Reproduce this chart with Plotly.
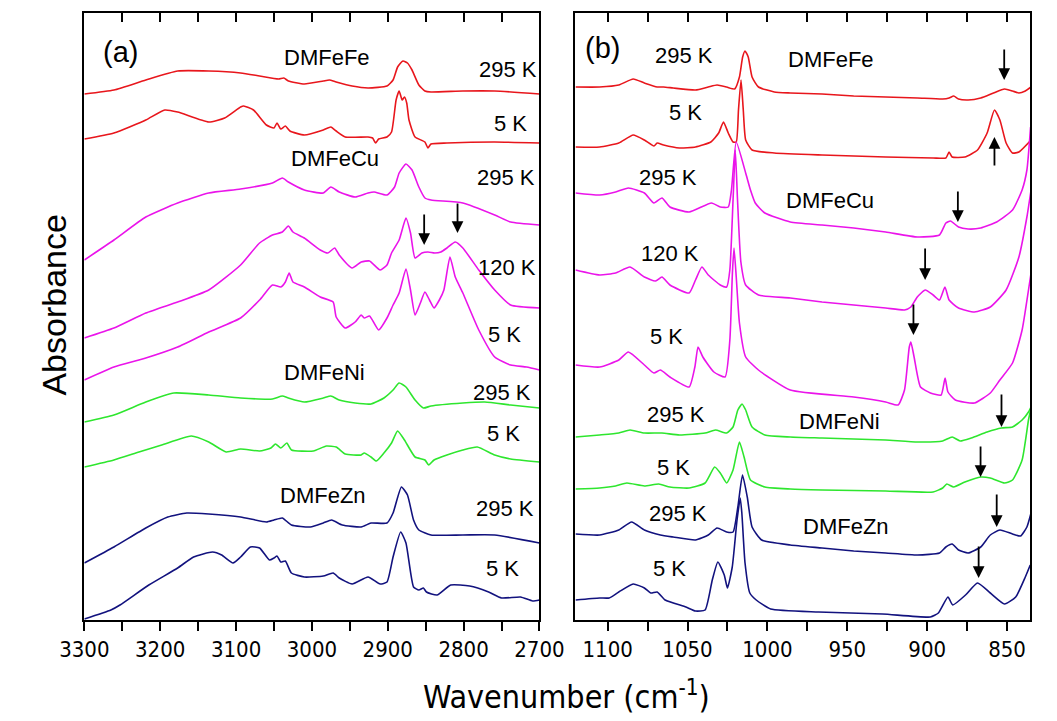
import plotly.graph_objects as go

# ---------------- Panel (a): 3300-2700 cm-1 (values: stacked absorbance, arb. units) ----------------
A_FE295_WN = [3300, 3261, 3219, 3177, 3136, 3094, 3069, 3044, 3037, 3031, 3010, 2985, 2977, 2968, 2947, 2926, 2901, 2893, 2887, 2880, 2874, 2868, 2859, 2851, 2843, 2801, 2759, 2700]
A_FE295_AB = [526, 530, 540, 549, 549, 547, 544, 541, 542, 539, 536, 539, 540, 538, 534, 532, 534, 540, 553, 559, 557, 550, 535, 529, 528, 529, 529, 526]

A_FE5_WN = [3300, 3261, 3219, 3194, 3177, 3136, 3115, 3094, 3090, 3077, 3060, 3050, 3046, 3041, 3035, 3029, 3010, 2985, 2975, 2968, 2956, 2926, 2920, 2916, 2912, 2901, 2895, 2889, 2885, 2881, 2878, 2875, 2872, 2864, 2851, 2847, 2843, 2822, 2759, 2700]
A_FE5_AB = [481, 487, 500, 510, 508, 498, 502, 513, 514, 510, 495, 492, 497, 491, 494, 489, 485, 490, 493, 489, 483, 483, 482, 477, 481, 483, 488, 520, 529, 520, 523, 517, 500, 483, 478, 472, 476, 477, 478, 477]

A_CU295_WN = [3300, 3261, 3219, 3177, 3136, 3094, 3052, 3039, 3031, 3010, 2985, 2975, 2964, 2943, 2926, 2918, 2901, 2891, 2885, 2876, 2868, 2859, 2851, 2843, 2801, 2759, 2738, 2700]
A_CU295_AB = [360, 380, 403, 417, 427, 431, 437, 442, 438, 430, 427, 433, 428, 423, 427, 428, 425, 433, 447, 456, 450, 433, 422, 420, 417, 405, 398, 395]

A_CU120_WN = [3300, 3261, 3219, 3177, 3136, 3094, 3069, 3052, 3039, 3031, 3025, 3010, 2989, 2979, 2970, 2964, 2947, 2935, 2924, 2910, 2901, 2895, 2885, 2876, 2870, 2864, 2855, 2847, 2838, 2830, 2822, 2811, 2801, 2780, 2759, 2738, 2700]
A_CU120_AB = [282, 292, 307, 318, 330, 355, 377, 385, 388, 394, 388, 382, 370, 367, 372, 365, 352, 358, 359, 350, 355, 367, 380, 402, 387, 362, 367, 368, 367, 368, 372, 378, 372, 350, 330, 315, 312]

A_CU5_WN = [3300, 3261, 3219, 3177, 3136, 3094, 3069, 3052, 3041, 3035, 3030, 3025, 3010, 2989, 2972, 2968, 2956, 2943, 2935, 2931, 2924, 2912, 2901, 2893, 2885, 2876, 2870, 2864, 2857, 2851, 2845, 2839, 2832, 2826, 2818, 2811, 2801, 2780, 2759, 2738, 2717, 2700]
A_CU5_AB = [240, 253, 262, 273, 288, 302, 320, 335, 333, 338, 347, 338, 333, 323, 318, 303, 292, 298, 305, 302, 304, 290, 302, 315, 327, 351, 330, 305, 317, 328, 320, 312, 320, 330, 363, 343, 327, 290, 263, 255, 253, 250]

A_NI295_WN = [3300, 3261, 3219, 3182, 3136, 3094, 3052, 3039, 3031, 3010, 2985, 2975, 2964, 2943, 2922, 2905, 2893, 2885, 2876, 2864, 2853, 2843, 2801, 2772, 2738, 2700]
A_NI295_AB = [198, 205, 218, 227, 225, 222, 221, 224, 222, 218, 222, 224, 220, 217, 216, 222, 230, 237, 233, 220, 212, 214, 217, 218, 215, 212]

A_NI5_WN = [3300, 3261, 3228, 3198, 3159, 3136, 3113, 3094, 3069, 3054, 3048, 3041, 3033, 3027, 2998, 2981, 2968, 2956, 2935, 2931, 2922, 2915, 2905, 2895, 2887, 2878, 2864, 2851, 2846, 2839, 2822, 2801, 2782, 2759, 2738, 2700]
A_NI5_AB = [153, 160, 168, 175, 184, 178, 168, 171, 169, 172, 176, 172, 177, 170, 169, 174, 173, 166, 165, 167, 163, 159, 167, 177, 189, 180, 163, 160, 155, 160, 165, 170, 173, 165, 161, 158]

A_ZN295_WN = [3300, 3261, 3219, 3190, 3165, 3136, 3094, 3060, 3050, 3039, 3027, 3002, 2985, 2974, 2960, 2935, 2922, 2901, 2893, 2882, 2874, 2866, 2859, 2843, 2801, 2759, 2700]
A_ZN295_AB = [57, 73, 92, 103, 107, 106, 103, 98, 100, 102, 95, 93, 97, 100, 95, 93, 97, 97, 107, 133, 125, 100, 90, 85, 85, 85, 77]

A_ZN5_WN = [3300, 3265, 3253, 3215, 3177, 3156, 3131, 3119, 3104, 3094, 3081, 3069, 3056, 3050, 3046, 3041, 3035, 3027, 3010, 2985, 2972, 2964, 2947, 2926, 2910, 2901, 2893, 2883, 2876, 2866, 2859, 2853, 2849, 2835, 2817, 2792, 2767, 2750, 2725, 2709, 2700]
A_ZN5_AB = [1, 10, 15, 35, 52, 63, 68, 65, 57, 63, 73, 72, 60, 62, 64, 58, 59, 47, 43, 44, 47, 42, 36, 43, 36, 38, 63, 88, 77, 33, 30, 32, 28, 25, 35, 34, 28, 22, 23, 19, 20]

# ---------------- Panel (b): 1120-835 cm-1 ----------------
B_FE295_WN = [1120, 1105, 1093, 1084, 1077, 1069, 1065, 1059, 1045, 1037, 1031.5, 1025.5, 1020.5, 1017.5, 1015.5, 1014, 1012, 1009.6, 1005.6, 995.7, 985.7, 965.8, 946, 926, 906, 890.3, 886.3, 883.4, 880.4, 874.4, 866.5, 858.5, 851.6, 846.6, 842.6, 838.6, 835]
B_FE295_AB = [533, 533, 535, 541, 537, 533, 533, 532, 530, 533, 535, 533, 531, 543, 563, 569, 563, 543, 533, 528, 527, 526, 524, 523, 522, 521, 522, 524, 521, 520, 522, 527, 531, 529, 527, 529, 533]

B_FE5_WN = [1120, 1105, 1093, 1084, 1077, 1071, 1069, 1065, 1055, 1045, 1035.4, 1030.5, 1027.5, 1024.5, 1021.5, 1019.5, 1018.1, 1016.5, 1015.1, 1013.6, 1009.6, 995.7, 965.8, 926, 896.3, 888.3, 886.3, 884.4, 876.4, 868.5, 862.5, 857.9, 854.5, 850.6, 846.6, 842.6, 835]
B_FE5_AB = [473, 473, 477, 485, 480, 474, 477, 475, 472, 473, 478, 487, 498, 487, 478, 478, 510, 540, 510, 480, 470, 467, 465, 463, 462, 462, 468, 463, 463, 470, 487, 510, 500, 477, 467, 468, 480]

B_CU295_WN = [1120, 1105, 1095, 1087, 1077, 1071, 1066, 1061, 1049, 1035, 1029.5, 1024.5, 1022.5, 1019.5, 1013.6, 1010.6, 1007.6, 1001.6, 985.7, 965.8, 946, 926, 906, 892.3, 888.3, 885.4, 880.4, 874.4, 866.5, 856.5, 846.6, 840.6, 837.6, 835.3]
B_CU295_AB = [427, 425, 428, 432, 427, 417, 422, 413, 408, 417, 413, 413, 430, 478, 447, 430, 417, 407, 398, 395, 392, 388, 383, 385, 397, 399, 393, 391, 392, 398, 410, 430, 450, 493]

B_CU120_WN = [1120, 1105, 1095, 1086, 1077, 1070, 1066, 1061, 1049, 1045, 1041, 1037, 1029.5, 1025.5, 1023.5, 1021.5, 1020.1, 1018.7, 1016.6, 1013.6, 1005.6, 985.7, 965.8, 946, 926, 914.2, 910.2, 906.2, 901.2, 896.3, 892.3, 888.9, 886.3, 880.4, 870.4, 860.5, 850.6, 842.6, 837.6, 835]
B_CU120_AB = [350, 345, 347, 353, 343, 339, 343, 335, 327, 340, 353, 345, 335, 333, 350, 420, 470, 420, 358, 335, 325, 322, 318, 315, 312, 310, 313, 323, 330, 325, 320, 333, 320, 312, 308, 313, 330, 363, 403, 430]

B_CU5_WN = [1120, 1105, 1093, 1087, 1077, 1071, 1067, 1061, 1049, 1045.4, 1043.4, 1040.4, 1033.5, 1026.5, 1023.5, 1021.9, 1020.9, 1019.5, 1017.5, 1013.6, 1005.6, 985.7, 946, 926, 918.2, 914.2, 911.2, 910.2, 908.2, 904.2, 898, 891.3, 888.8, 887, 882.4, 870.4, 860.5, 854.5, 846.6, 840.6, 836.6, 835]
B_CU5_AB = [255, 253, 260, 268, 255, 247, 250, 243, 233, 253, 273, 263, 248, 243, 280, 347, 372, 343, 297, 263, 250, 230, 223, 218, 215, 230, 273, 278, 263, 233, 227, 225, 242, 228, 220, 217, 227, 240, 257, 290, 330, 347]

B_NI295_WN = [1120, 1105, 1093, 1086, 1077, 1066, 1055, 1039, 1032.5, 1025.5, 1021.5, 1018.5, 1015.9, 1013.6, 1009.6, 1001.6, 985.7, 965.8, 946, 926, 906, 890.3, 884.4, 879.4, 872.4, 862.5, 853.5, 846.6, 840.6, 836.6, 835]
B_NI295_AB = [183, 185, 187, 190, 187, 187, 185, 187, 190, 187, 193, 210, 216, 210, 193, 185, 183, 182, 181, 180, 178, 179, 183, 179, 182, 188, 192, 193, 200, 208, 213]

B_NI5_WN = [1120, 1105, 1095, 1088, 1077, 1068, 1061, 1049, 1039, 1033, 1029.5, 1025.5, 1021.5, 1017.5, 1014.6, 1010.6, 1001.6, 985.7, 965.8, 926, 896.3, 890.3, 887.7, 883.4, 876.4, 866.5, 860.5, 851.6, 846.6, 840.6, 836.6, 835]
B_NI5_AB = [131, 132, 134, 137, 134, 136, 133, 132, 137, 153, 147, 137, 150, 178, 163, 140, 133, 131, 130, 129, 128, 132, 136, 133, 138, 143, 142, 137, 140, 160, 200, 212]

B_ZN295_WN = [1120, 1105, 1093, 1085, 1077, 1067, 1059, 1045, 1037, 1031.5, 1025.5, 1021.5, 1018.5, 1015.6, 1012.6, 1009.6, 1003.6, 985.7, 965.8, 946, 926, 906, 892.3, 888.3, 884.4, 880.4, 874.4, 866.5, 860.5, 854.5, 846.6, 841.6, 837.6, 835]
B_ZN295_AB = [86, 85, 90, 98, 90, 85, 83, 80, 85, 92, 88, 88, 113, 145, 123, 93, 80, 75, 72, 69, 67, 65, 67, 73, 76, 70, 67, 73, 85, 90, 86, 84, 93, 107]

B_ZN5_WN = [1120, 1105, 1099, 1093, 1084, 1077, 1073, 1069, 1064, 1051, 1045, 1039, 1034.5, 1031, 1027, 1025, 1022, 1019, 1017, 1016, 1014, 1011, 1007, 998, 968, 928, 898, 893, 887, 884, 876, 868.5, 860.5, 851.6, 844.6, 838.6, 835.5]
B_ZN5_AB = [20, 22, 22, 28, 36, 32, 27, 28, 20, 13, 9, 10, 40, 58, 45, 32, 53, 100, 122, 107, 57, 27, 20, 11, 8, 6, 3, 7, 23, 15, 25, 37, 27, 16, 23, 43, 55]

# text labels (text, wavenumber, stacked absorbance)
LABELS_A = [("DMFeFe", 2980, 563), ("295 K", 2742, 551), ("5 K", 2738, 497),
            ("DMFeCu", 2970, 462), ("295 K", 2744, 443), ("120 K", 2743, 353), ("5 K", 2746, 286),
            ("DMFeNi", 2983, 248), ("295 K", 2750, 228), ("5 K", 2747, 187),
            ("DMFeZn", 2985, 125), ("295 K", 2746, 112), ("5 K", 2749, 52)]
LABELS_B = [("295 K", 1052, 565), ("DMFeFe", 960, 561), ("5 K", 1051, 508),
            ("295 K", 1062, 443), ("DMFeCu", 961, 420), ("120 K", 1061, 367), ("5 K", 1063, 284),
            ("295 K", 1057, 206), ("DMFeNi", 955, 199), ("5 K", 1059, 153),
            ("295 K", 1056, 107), ("DMFeZn", 951, 94), ("5 K", 1061, 52)]
# arrows (wavenumber, head, tail)
ARROWS_A = [(2852, 375, 407), (2808, 387, 418)]
ARROWS_B = [(851.8, 540, 572), (857.9, 483, 453), (880.8, 398, 430), (901.3, 340, 373),
            (908.6, 285, 317), (853.5, 193, 227), (866.6, 143, 175), (856.5, 93, 127), (867.8, 42, 75)]

RED, MAG, GRN, BLU = "#e8161c", "#ea14ea", "#2ee62e", "#12127e"

SERIES_A = [(A_FE295_WN, A_FE295_AB, RED), (A_FE5_WN, A_FE5_AB, RED),
            (A_CU295_WN, A_CU295_AB, MAG), (A_CU120_WN, A_CU120_AB, MAG), (A_CU5_WN, A_CU5_AB, MAG),
            (A_NI295_WN, A_NI295_AB, GRN), (A_NI5_WN, A_NI5_AB, GRN),
            (A_ZN295_WN, A_ZN295_AB, BLU), (A_ZN5_WN, A_ZN5_AB, BLU)]
SERIES_B = [(B_FE295_WN, B_FE295_AB, RED), (B_FE5_WN, B_FE5_AB, RED),
            (B_CU295_WN, B_CU295_AB, MAG), (B_CU120_WN, B_CU120_AB, MAG), (B_CU5_WN, B_CU5_AB, MAG),
            (B_NI295_WN, B_NI295_AB, GRN), (B_NI5_WN, B_NI5_AB, GRN),
            (B_ZN295_WN, B_ZN295_AB, BLU), (B_ZN5_WN, B_ZN5_AB, BLU)]

W, H = 1057, 721
TXT_FONT = "Liberation Sans, Arial, sans-serif"
NARROW = "Liberation Sans Narrow, Arial Narrow, DejaVu Sans Condensed, Liberation Sans, sans-serif"

fig = go.Figure()
for wn, ab, col in SERIES_A:
    fig.add_trace(go.Scatter(x=wn, y=ab, mode="lines", xaxis="x", yaxis="y",
                             line=dict(color=col, width=1.6, shape="spline", smoothing=0.5),
                             showlegend=False, hoverinfo="skip"))
for wn, ab, col in SERIES_B:
    fig.add_trace(go.Scatter(x=wn, y=ab, mode="lines", xaxis="x2", yaxis="y2",
                             line=dict(color=col, width=1.6, shape="spline", smoothing=0.5),
                             showlegend=False, hoverinfo="skip"))
# empty traces to carry the top (inside-tick) axes
fig.add_trace(go.Scatter(x=[], y=[], xaxis="x3", yaxis="y", showlegend=False))
fig.add_trace(go.Scatter(x=[], y=[], xaxis="x4", yaxis="y2", showlegend=False))

TV_A = list(range(3300, 2699, -50))
TT_A = [str(v) if v % 100 == 0 else "" for v in TV_A]
TV_B = list(range(1100, 849, -25))
TT_B = [str(v) if v % 50 == 0 else "" for v in TV_B]

RANGE_A = [3300, 2700]
RANGE_B = [1120.3, 835.6]
YR = [0, 607.3]
XD_A = [62.3 / W, 540 / W]
XD_B = [577.5 / W, 1055 / W]
YD = [(H - 620) / H, (H - 12.7) / H]

common_x = dict(showgrid=False, zeroline=False, showline=True, linewidth=2, linecolor="black",
                mirror=True, ticks="outside", ticklen=9, tickwidth=1.5, tickcolor="black",
                tickfont=dict(family=NARROW, size=22, color="black"))
common_top = dict(showgrid=False, zeroline=False, showline=False, side="top", ticks="inside",
                  ticklen=9, tickwidth=1.5, tickcolor="black", showticklabels=False)
common_y = dict(showgrid=False, zeroline=False, showline=True, linewidth=2, linecolor="black",
                mirror=True, ticks="", showticklabels=False, range=YR, domain=YD)

fig.update_layout(
    width=W, height=H, margin=dict(l=0, r=0, t=0, b=0),
    paper_bgcolor="white", plot_bgcolor="white",
    xaxis=dict(common_x, domain=XD_A, range=RANGE_A, tickvals=TV_A, ticktext=TT_A, anchor="y"),
    xaxis2=dict(common_x, domain=XD_B, range=RANGE_B, tickvals=TV_B, ticktext=TT_B, anchor="y2"),
    xaxis3=dict(common_top, overlaying="x", range=RANGE_A, tickvals=TV_A, anchor="y"),
    xaxis4=dict(common_top, overlaying="x2", range=RANGE_B, tickvals=TV_B, anchor="y2"),
    yaxis=dict(common_y, anchor="x"),
    yaxis2=dict(common_y, anchor="x2"),
)

ann = []
for t, x, y in LABELS_A:
    ann.append(dict(text=t, x=x, y=y, xref="x", yref="y", showarrow=False,
                    font=dict(family=TXT_FONT, size=22, color="black")))
for t, x, y in LABELS_B:
    ann.append(dict(text=t, x=x, y=y, xref="x2", yref="y2", showarrow=False,
                    font=dict(family=TXT_FONT, size=22, color="black")))
ann.append(dict(text="(a)", x=3252.7, y=568, xref="x", yref="y", showarrow=False,
                font=dict(family=TXT_FONT, size=29, color="black")))
ann.append(dict(text="(b)", x=1103.4, y=572, xref="x2", yref="y2", showarrow=False,
                font=dict(family=TXT_FONT, size=29, color="black")))
for x, h, t in ARROWS_A:
    ann.append(dict(text="", x=x, y=h, ax=x, ay=t, xref="x", yref="y", axref="x", ayref="y",
                    showarrow=True, arrowhead=2, arrowsize=1.3, arrowwidth=1.8, arrowcolor="black",
                    standoff=0, startstandoff=0))
for x, h, t in ARROWS_B:
    ann.append(dict(text="", x=x, y=h, ax=x, ay=t, xref="x2", yref="y2", axref="x2", ayref="y2",
                    showarrow=True, arrowhead=2, arrowsize=1.3, arrowwidth=1.8, arrowcolor="black",
                    standoff=0, startstandoff=0))
ann.append(dict(text="Absorbance", x=30 / W, y=1 - 305 / H, xref="paper", yref="paper",
                showarrow=False, textangle=-90, xanchor="center", yanchor="middle",
                font=dict(family=TXT_FONT, size=34, color="black")))
ann.append(dict(text="Wavenumber (cm<sup>-1</sup>)", x=568 / W, y=3 / H, xref="paper", yref="paper",
                showarrow=False, xanchor="center", yanchor="bottom",
                font=dict(family=NARROW, size=32, color="black")))
fig.update_layout(annotations=ann)

fig.write_html("out.html")
